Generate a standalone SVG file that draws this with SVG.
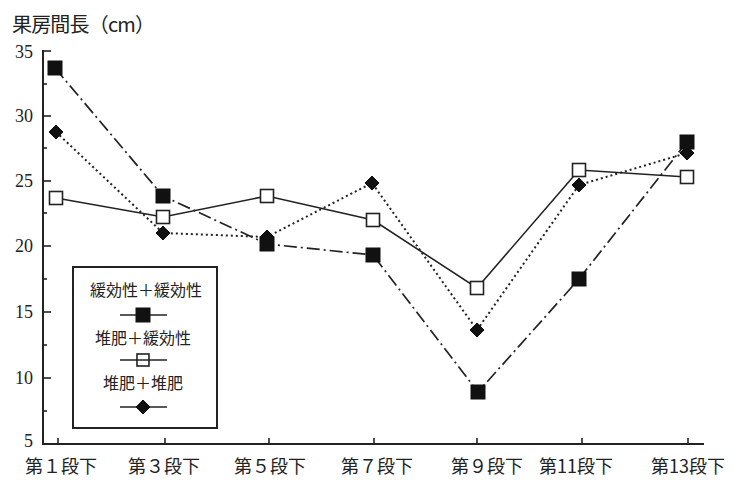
<svg xmlns="http://www.w3.org/2000/svg" width="734" height="488" viewBox="0 0 734 488">
<style>
  .cjk { font-family: "Noto Sans CJK JP", "Noto Sans CJK SC", sans-serif; fill: #222; }
  .num { font-family: "Liberation Serif", "DejaVu Serif", serif; fill: #222; font-size: 18px; }
  .axis { stroke: #222; stroke-width: 2; fill: none; }
  .tick { stroke: #222; stroke-width: 1.6; }
  .lineA { fill: none; stroke: #222; stroke-width: 1.7; stroke-dasharray: 13 4 2 4; }
  .lineB { fill: none; stroke: #222; stroke-width: 1.6; }
  .lineC { fill: none; stroke: #222; stroke-width: 2; stroke-dasharray: 2 3; }
  .fsq { fill: #111; stroke: #111; stroke-width: 1; }
  .osq { fill: #fff; stroke: #222; stroke-width: 1.6; }
  .dia { fill: #111; stroke: #111; stroke-width: 1; }
</style>
<defs>
  <rect id="fs" x="-7" y="-7" width="14" height="14" class="fsq"/>
  <rect id="os" x="-6.5" y="-6.5" width="13" height="13" class="osq"/>
  <polygon id="dm" points="0,-7 7,0 0,7 -7,0" class="dia"/>
</defs>
<rect width="734" height="488" fill="#fff"/>

<!-- title -->
<text class="cjk" x="12" y="32" font-size="20" textLength="143" lengthAdjust="spacing">果房間長（cm）</text>

<!-- axes -->
<g id="axes">
  <line class="axis" x1="43" y1="50" x2="43" y2="445"/>
  <line class="axis" x1="42" y1="444" x2="704" y2="444"/>
  <g class="tick">
    <line x1="43" y1="51" x2="51" y2="51"/>
    <line x1="43" y1="116" x2="51" y2="116"/>
    <line x1="43" y1="181" x2="51" y2="181"/>
    <line x1="43" y1="246" x2="51" y2="246"/>
    <line x1="43" y1="312" x2="51" y2="312"/>
    <line x1="43" y1="378" x2="51" y2="378"/>
    <line x1="43" y1="84" x2="47" y2="84"/>
    <line x1="43" y1="148" x2="47" y2="148"/>
    <line x1="43" y1="213" x2="47" y2="213"/>
    <line x1="43" y1="279" x2="47" y2="279"/>
    <line x1="43" y1="345" x2="47" y2="345"/>
    <line x1="43" y1="411" x2="47" y2="411"/>
    <line x1="58" y1="444" x2="58" y2="438"/>
    <line x1="165" y1="444" x2="165" y2="438"/>
    <line x1="269" y1="444" x2="269" y2="438"/>
    <line x1="374" y1="444" x2="374" y2="438"/>
    <line x1="477" y1="444" x2="477" y2="438"/>
    <line x1="582" y1="444" x2="582" y2="438"/>
    <line x1="688" y1="444" x2="688" y2="438"/>
  </g>
  <g class="num" text-anchor="end">
    <text x="33" y="58">35</text>
    <text x="33" y="122">30</text>
    <text x="33" y="187">25</text>
    <text x="33" y="252">20</text>
    <text x="33" y="318">15</text>
    <text x="33" y="384">10</text>
    <text x="33" y="447">5</text>
  </g>
  <g class="cjk" font-size="18" text-anchor="middle">
    <text x="61" y="473">第１段下</text>
    <text x="164" y="473">第３段下</text>
    <text x="270" y="473">第５段下</text>
    <text x="377" y="473">第７段下</text>
    <text x="487" y="473">第９段下</text>
    <text x="576" y="473">第11段下</text>
    <text x="688" y="473">第13段下</text>
  </g>
</g>

<!-- connectors -->
<g id="connectors">
  <polyline class="lineB" points="56,198 163,217 267,196 373,220 477,288 579,170 687,177"/>
  <polyline class="lineC" points="56,132 163,233 267,237 372,183 477,330 579,185 687,153"/>
  <polyline class="lineA" points="55,68 163,196 267,244 373,255 478,392 579,279 687,142"/>
</g>

<g id="series-B">
  <use href="#os" x="56" y="198"/>
  <use href="#os" x="163" y="217"/>
  <use href="#os" x="267" y="196"/>
  <use href="#os" x="373" y="220"/>
  <use href="#os" x="477" y="288"/>
  <use href="#os" x="579" y="170"/>
  <use href="#os" x="687" y="177"/>
</g>
<g id="series-C">
  <use href="#dm" x="56" y="132"/>
  <use href="#dm" x="163" y="233"/>
  <use href="#dm" x="267" y="237"/>
  <use href="#dm" x="372" y="183"/>
  <use href="#dm" x="477" y="330"/>
  <use href="#dm" x="579" y="185"/>
  <use href="#dm" x="687" y="153"/>
</g>
<g id="series-A">
  <use href="#fs" x="55" y="68"/>
  <use href="#fs" x="163" y="196"/>
  <use href="#fs" x="267" y="244"/>
  <use href="#fs" x="373" y="255"/>
  <use href="#fs" x="478" y="392"/>
  <use href="#fs" x="579" y="279"/>
  <use href="#fs" x="687" y="142"/>
</g>

<g id="legend">
  <rect x="73" y="267" width="144" height="161" fill="#fff" stroke="#222" stroke-width="2"/>
  <g class="cjk" font-size="16" text-anchor="middle">
    <text x="146" y="296">緩効性＋緩効性</text>
    <text x="143" y="344">堆肥＋緩効性</text>
    <text x="143" y="389">堆肥＋堆肥</text>
  </g>
  <line x1="120" y1="315" x2="167" y2="315" stroke="#222" stroke-width="1.6"/>
  <use href="#fs" x="143" y="315"/>
  <line x1="120" y1="360" x2="167" y2="360" stroke="#222" stroke-width="1.6"/>
  <rect x="137" y="354" width="12" height="12" fill="none" stroke="#222" stroke-width="1.6"/>
  <line x1="120" y1="407" x2="167" y2="407" stroke="#222" stroke-width="1.6"/>
  <use href="#dm" x="143" y="407"/>
</g>
</svg>
